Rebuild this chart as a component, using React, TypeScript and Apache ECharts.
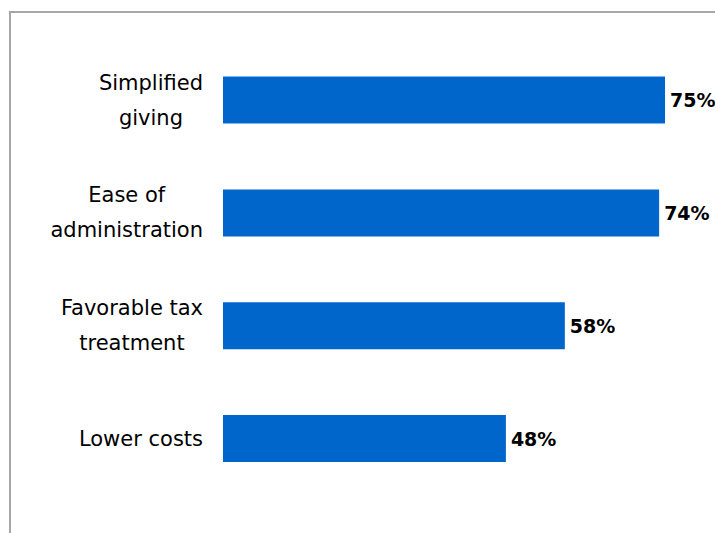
import React, { useEffect, useRef } from "react";
import * as echarts from "echarts";

const categories = ["Simplified\ngiving", "Ease of\nadministration", "Favorable tax\ntreatment", "Lower costs"];
const values = [75, 74, 58, 48];

export default function App() {
  const ref = useRef<HTMLDivElement>(null);
  useEffect(() => {
    const chart = echarts.init(ref.current!, null, { renderer: "svg" });
    chart.setOption({
      animation: false,
      backgroundColor: "#ffffff",
      graphic: [
        {
          type: "rect",
          shape: { x: 10, y: 12, width: 740, height: 560 },
          style: { fill: "none", stroke: "#a6a6a6", lineWidth: 2 },
          silent: true,
        },
      ],
      grid: { left: 223, right: 20.5, top: 43.6, bottom: 38, containLabel: false },
      xAxis: {
        type: "value",
        min: 0,
        max: 80,
        show: false,
      },
      yAxis: {
        type: "category",
        inverse: true,
        data: categories,
        axisLine: { show: false },
        axisTick: { show: false },
        axisLabel: {
          margin: 20,
          align: "right",
          fontFamily: "DejaVu Sans",
          fontSize: 21,
          color: "#000000",
          lineHeight: 35,
          formatter: (v: string) =>
            v
              .split("\n")
              .map((l) => `{c|${l}}`)
              .join("\n"),
          rich: {
            c: {
              align: "center",
              fontFamily: "DejaVu Sans",
              fontSize: 21,
              color: "#000000",
              lineHeight: 35,
            },
          },
        },
      },
      series: [
        {
          type: "bar",
          data: values,
          barWidth: 47,
          itemStyle: { color: "#0066CC" },
          label: {
            show: true,
            position: "right",
            distance: 5,
            formatter: "{c}%",
            fontFamily: "DejaVu Sans",
            fontWeight: "bold",
            fontSize: 19,
            color: "#000000",
          },
        },
      ],
    });
    return () => chart.dispose();
  }, []);
  return (
    <div
      ref={ref}
      style={{ position: "absolute", left: 0, top: 0, width: 715, height: 533 }}
    />
  );
}
